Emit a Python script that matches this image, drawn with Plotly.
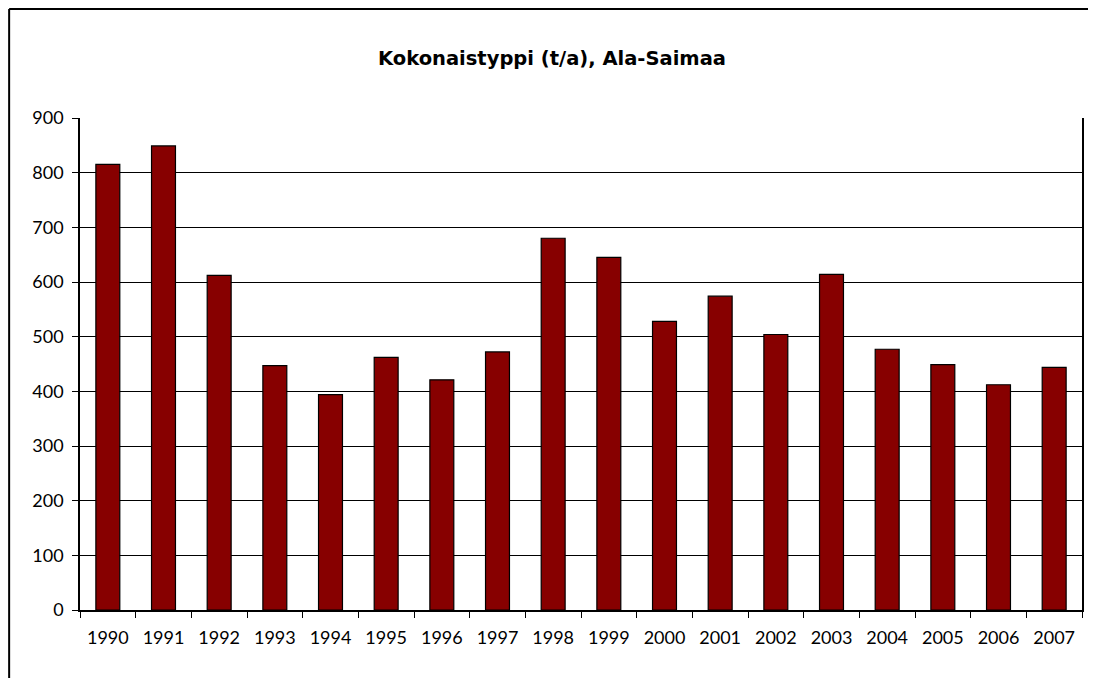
import plotly.graph_objects as go

years = ["1990", "1991", "1992", "1993", "1994", "1995", "1996", "1997", "1998",
         "1999", "2000", "2001", "2002", "2003", "2004", "2005", "2006", "2007"]
values = [815, 849, 612, 447, 394, 462, 421, 472, 680,
          645, 528, 574, 504, 614, 477, 449, 412, 444]
y_ticks = [0, 100, 200, 300, 400, 500, 600, 700, 800, 900]

FONT = "Lato, 'Noto Sans', sans-serif"
TFONT = "'DejaVu Sans', sans-serif"

fig = go.Figure()
fig.add_trace(go.Bar(
    x=years, y=values,
    marker=dict(color="#870000", line=dict(color="#000000", width=1.2)),
    width=0.43,
))

# page body has an 8px margin, so the figure starts at (8, 8)
OFF = 8
W, H = 1096 - OFF, 678 - OFF
L, R, T, B = 80 - OFF, 12, 118 - OFF, 68
pw, ph = W - L - R, H - T - B

def px_x(px):
    return (px - OFF - L) / pw

def px_y(py):
    return (H - B - (py - OFF)) / ph

fig.update_layout(
    width=W, height=H,
    margin=dict(l=L, r=R, t=T, b=B),
    paper_bgcolor="white", plot_bgcolor="white",
    showlegend=False,
    title=dict(text="<b>Kokonaistyppi (t/a), Ala-Saimaa</b>",
               x=(552 - OFF) / W, xanchor="center", xref="container",
               y=1 - (58 - OFF) / H, yanchor="middle", yref="container",
               font=dict(family=TFONT, size=19.5, color="black")),
    font=dict(family=FONT, size=18, color="black"),
    bargap=0.57,
    xaxis=dict(
        showgrid=False, showline=True, linecolor="black", linewidth=1.5,
        ticks="outside", ticklen=6, tickcolor="black", tickson="boundaries",
        ticklabelstandoff=11,
        mirror=False, tickfont=dict(family=FONT, size=18, color="black"),
    ),
    yaxis=dict(
        range=[0, 900], tickvals=y_ticks, ticktext=[str(v) for v in y_ticks],
        showgrid=True, gridcolor="black", gridwidth=1,
        showline=True, linecolor="black", linewidth=1.5, mirror=True,
        ticks="outside", ticklen=6, tickcolor="black", ticklabelstandoff=5,
        zeroline=False, tickfont=dict(family=FONT, size=18, color="black"),
    ),
    shapes=[
        dict(type="line", xref="paper", yref="paper",
             x0=px_x(9), x1=px_x(9), y0=px_y(9), y1=px_y(700),
             line=dict(color="black", width=2)),
        dict(type="line", xref="paper", yref="paper",
             x0=px_x(9), x1=px_x(1110), y0=px_y(9), y1=px_y(9),
             line=dict(color="black", width=2)),
    ],
)

fig.write_html("out.html")
